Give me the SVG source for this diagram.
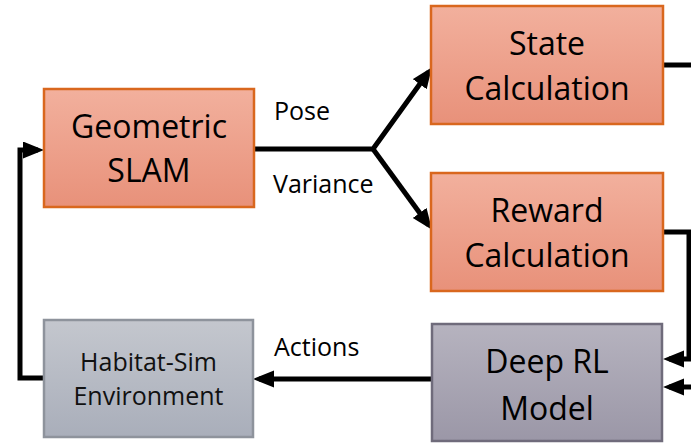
<svg xmlns="http://www.w3.org/2000/svg" width="691" height="443" viewBox="0 0 691 443">
<defs>
<linearGradient id="gOr" x1="0" y1="0" x2="0" y2="1"><stop offset="0" stop-color="#F2B09D"/><stop offset="1" stop-color="#E8917A"/></linearGradient>
<linearGradient id="gHab" x1="0" y1="0" x2="0" y2="1"><stop offset="0" stop-color="#C4C7CE"/><stop offset="1" stop-color="#A9AEBA"/></linearGradient>
<linearGradient id="gRL" x1="0" y1="0" x2="0" y2="1"><stop offset="0" stop-color="#B6B3BF"/><stop offset="1" stop-color="#9B97A7"/></linearGradient>
<marker id="arr" markerUnits="userSpaceOnUse" markerWidth="22" markerHeight="18" refX="15" refY="8.5" orient="auto"><path d="M0,0 L21,8.5 L0,17 z" fill="#000"/></marker>
<style>
.or{fill:url(#gOr);stroke:#D9671E;stroke-width:2.5}
.hab{fill:url(#gHab);stroke:#8E939C;stroke-width:2.5}
.rl{fill:url(#gRL);stroke:#6F6B7B;stroke-width:2.5}
.big{font-family:"Open Sans","Liberation Sans",sans-serif;font-size:32px;fill:#000;text-anchor:middle}
.mid{font-family:"Open Sans","Liberation Sans",sans-serif;font-size:25px;fill:#111;text-anchor:middle}
.lbl{font-family:"Open Sans","Liberation Sans",sans-serif;font-size:25px;fill:#000}
.c{fill:none;stroke:#000;stroke-width:5;stroke-linejoin:miter}
</style>
</defs>
<g id="connectors">
<path class="c" d="M254,149 H373 L428.5,72" marker-end="url(#arr)"/>
<path class="c" d="M373,149 L428.5,225" marker-end="url(#arr)"/>
<path class="c" d="M663,65 H691"/>
<path class="c" d="M663,232 H689 V359 H669" marker-end="url(#arr)"/>
<path class="c" d="M691,387 H669" marker-end="url(#arr)"/>
<path class="c" d="M432,379 H259" marker-end="url(#arr)"/>
<path class="c" d="M44,378 H20 V150 H38" marker-end="url(#arr)"/>
<text class="lbl" x="274" y="120">Pose</text>
<text class="lbl" x="273" y="193">Variance</text>
<text class="lbl" x="274" y="356">Actions</text>
</g>
<g id="slam">
<rect class="or" x="44" y="89" width="210" height="118"/>
<text class="big" x="149" y="138">Geometric</text>
<text class="big" x="149" y="182">SLAM</text>
</g>
<g id="state">
<rect class="or" x="431" y="6" width="232" height="118"/>
<text class="big" x="547" y="55">State</text>
<text class="big" x="547" y="100">Calculation</text>
</g>
<g id="reward">
<rect class="or" x="431" y="173" width="232" height="118"/>
<text class="big" x="547" y="222">Reward</text>
<text class="big" x="547" y="267">Calculation</text>
</g>
<g id="habitat">
<rect class="hab" x="44" y="320" width="209" height="117"/>
<text class="mid" x="148.5" y="371">Habitat-Sim</text>
<text class="mid" x="148.5" y="405">Environment</text>
</g>
<g id="deeprl">
<rect class="rl" x="432" y="324" width="230" height="117"/>
<text class="big" x="547" y="373">Deep RL</text>
<text class="big" x="547" y="420">Model</text>
</g>
</svg>
